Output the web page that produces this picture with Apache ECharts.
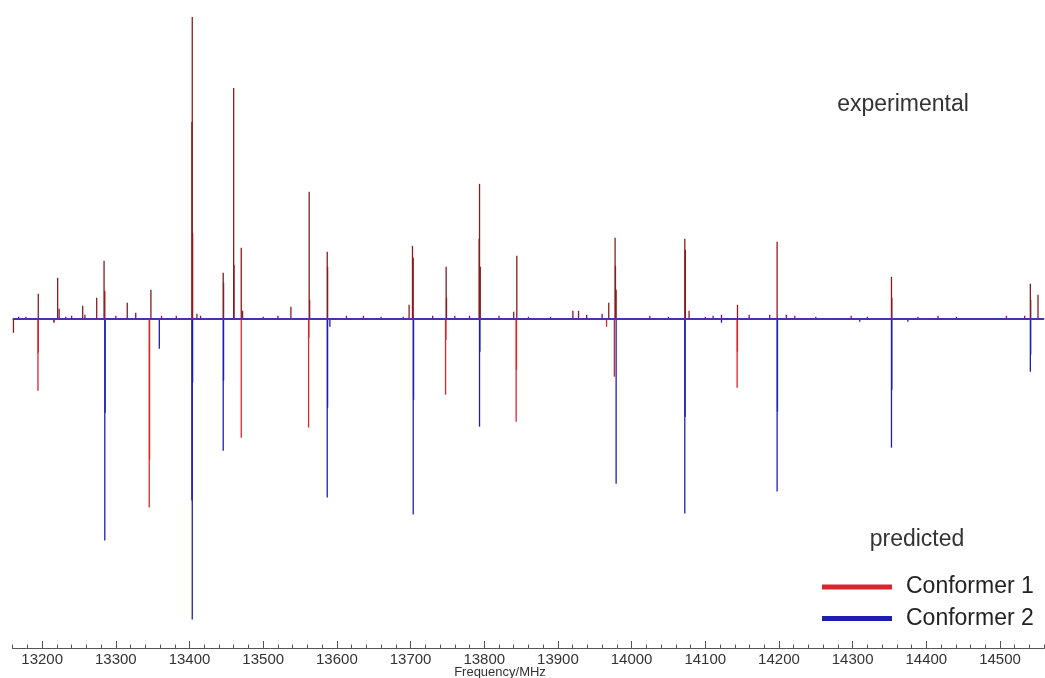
<!DOCTYPE html>
<html>
<head>
<meta charset="utf-8">
<script src="https://cdn.jsdelivr.net/npm/echarts@6/dist/echarts.min.js"></script>
<style>
html,body{margin:0;padding:0;background:#fff;}
#chart{width:1045px;height:678px;}
</style>
</head>
<body>
<div id="chart"></div>
<script>
// Frequency axis (MHz) tick labels
var tickLabels = [13200,13300,13400,13500,13600,13700,13800,13900,14000,14100,14200,14300,14400,14500];

// Experimental spectrum: line positions (MHz) and intensities (arb. units, positive)
var expFreq = [13161,13168,13178,13194.7,13216,13221,13223,13232,13240,13255,13258,13274,13284,13285,13300,13315.5,13327,13347.6,13362,13382,
  13403.7,13403.2,13404.2,13410,13415,13445.7,13446.2,13459.9,13460.4,13470.2,13472,13500,13520,13537.6,13562.4,13563,13586.9,13587.4,
  13613,13636,13660,13690,13698,13702.6,13703.6,13730,13748.3,13748.8,13760,13780,13793.6,13793.1,13794.6,13820,13840,13844.2,13860,13890,
  13920.3,13928,13939,13960,13969,13977.6,13978.1,13979,14024.7,14050,14072.2,14073,14078,14100,14110.6,14122,14143.7,14159.5,14187.5,
  14197.5,14210,14221.5,14250,14298,14320,14352.7,14353.2,14388.6,14415.9,14440.9,14508.7,14533.5,14541.2,14541.7,14551.6];
var expInt = [-14,2,2,25,-4,41,10,2,3,13,4,21,58,28,3,16,6,29,3,3,
  302,197,86,5,3,46,36,231,54,71,8,2,3,12,127,19,67,52,
  3,3,2,2,14,73,61,3,52,21,3,3,135,80,52,3,7,63,2,2,
  8,8,4,5,16,81,53,29,3,2,80,69,8,2,3,4,14,4,4,
  77,4,3,2,3,2,42,21,2,3,2,3,3,35,19,24];

// Predicted spectrum, Conformer 1 (drawn downward)
var conf1Freq = [13194.3,13194.8,13216,13345.3,13345.8,13470.2,13561.6,13562,13747.5,13748,13843.3,13843.8,13966,13976.6,14143.2,14143.7];
var conf1Int  = [-72,-34,-3,-189,-141,-119,-109,-19,-76,-21,-103,-51,-8,-58,-69,-33];

// Predicted spectrum, Conformer 2 (drawn downward)
var conf2Freq = [13285,13285.5,13359,13403.7,13403.2,13404.2,13445.7,13446.2,13586.9,13587.4,13590.5,13703.6,13704.1,13793.6,13794.1,
  13979,14072.2,14072.7,14122,14197.5,14198,14309.6,14352.7,14353.2,14375,14541.2,14541.7];
var conf2Int  = [-222,-94,-30,-301,-182,-64,-132,-62,-179,-89,-8,-196,-81,-108,-33,
  -165,-195,-98,-4,-173,-93,-3,-129,-71,-3,-53,-36];

function pairs(f, v) { return f.map(function (x, i) { return [x, v[i]]; }); }

function stick(params, api) {
  var x = api.value(0), y = api.value(1);
  var p0 = api.coord([x, 0]);
  var p1 = api.coord([x, y]);
  return {
    type: 'line',
    shape: { x1: p0[0], y1: p0[1], x2: p1[0], y2: p1[1] },
    style: { stroke: api.visual('color'), lineWidth: 1.3 }
  };
}

var chart = echarts.init(document.getElementById('chart'), null, { renderer: 'canvas' });
var FONT = '"Liberation Sans", Arial, Helvetica, sans-serif';

chart.setOption({
  animation: false,
  backgroundColor: '#ffffff',
  grid: { left: 12.7, right: 0.8, top: 0, bottom: 29.5, containLabel: false },
  xAxis: [{
    type: 'value', min: 13160, max: 14560, position: 'bottom',
    axisLine: { show: true, onZero: false, lineStyle: { color: '#555', width: 1 } },
    axisTick: { show: true, inside: true, length: 7.5, lineStyle: { color: '#555' }, customValues: tickLabels },
    axisLabel: { show: true, customValues: tickLabels, margin: 4, color: '#333', fontSize: 15, fontFamily: FONT,
      formatter: function (v) { return String(v); } },
    splitLine: { show: false }
  }, {
    type: 'value', min: 13160, max: 14560, interval: 20, position: 'bottom', offset: 0,
    axisLine: { show: false, onZero: false },
    axisTick: { show: true, inside: true, length: 4, lineStyle: { color: '#555' } },
    axisLabel: { show: false },
    splitLine: { show: false }
  }],
  yAxis: { type: 'value', min: -330, max: 319, show: false, splitLine: { show: false } },
  legend: {
    data: [{ name: 'Conformer 1', icon: 'rect' }, { name: 'Conformer 2', icon: 'rect' }],
    orient: 'vertical', left: 822, top: 575, padding: 0,
    itemWidth: 70, itemHeight: 5, itemGap: 7.6,
    textStyle: { fontSize: 23, fontFamily: FONT, color: '#222', lineHeight: 24, padding: [0, 0, 0, 9] }
  },
  graphic: [
    { type: 'text', x: 903, y: 105, style: { text: 'experimental', font: '23px ' + FONT, fill: '#333', textAlign: 'center', textVerticalAlign: 'middle' } },
    { type: 'text', x: 917, y: 540, style: { text: 'predicted', font: '23px ' + FONT, fill: '#333', textAlign: 'center', textVerticalAlign: 'middle' } },
    { type: 'text', x: 500, y: 672, style: { text: 'Frequency/MHz', font: '13px ' + FONT, fill: '#333', textAlign: 'center', textVerticalAlign: 'middle' } }
  ],
  series: [
    {
      name: 'Conformer 1', type: 'custom', renderItem: stick,
      itemStyle: { color: '#d8262e' }, data: pairs(conf1Freq, conf1Int), z: 3
    },
    {
      name: 'Conformer 2', type: 'custom', renderItem: stick,
      itemStyle: { color: '#1e1eb4' }, data: pairs(conf2Freq, conf2Int), z: 3
    },
    {
      name: 'experimental', type: 'custom', renderItem: stick,
      itemStyle: { color: '#8a1c1c' }, data: pairs(expFreq, expInt), z: 4,
      markLine: {
        silent: true, symbol: 'none', label: { show: false },
        lineStyle: { color: '#4b32a8', width: 2, type: 'solid' },
        data: [{ yAxis: 0 }]
      }
    }
  ]
});
</script>
</body>
</html>
